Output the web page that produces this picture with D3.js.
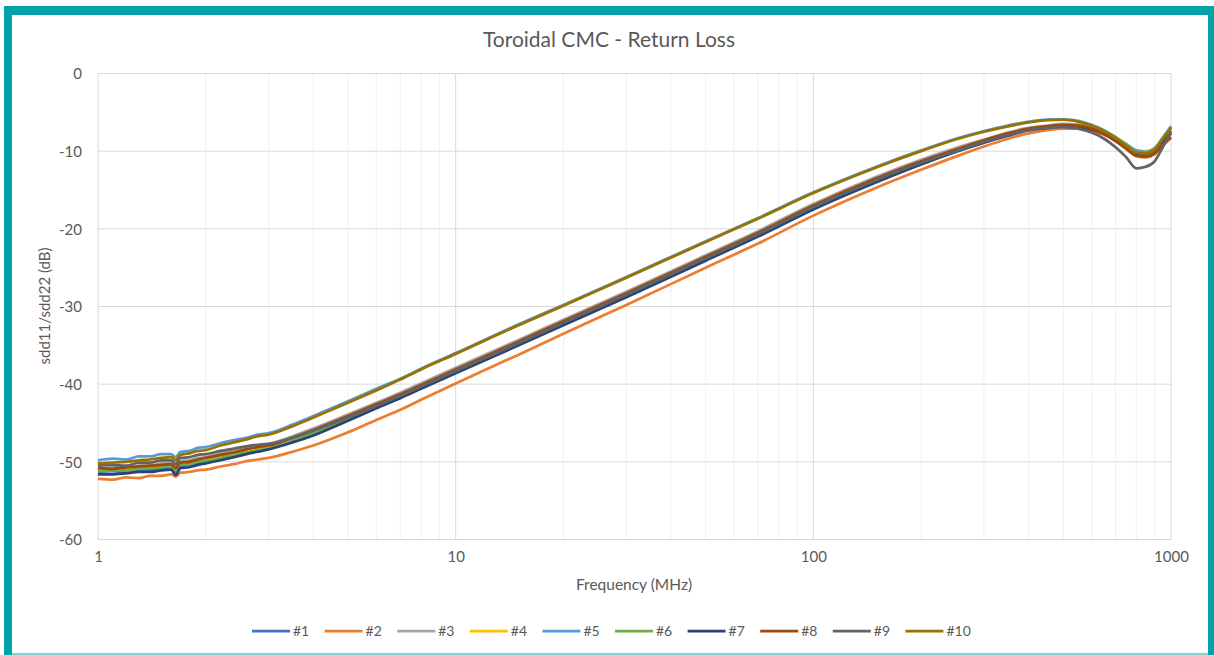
<html>
<head>
<meta charset="utf-8">
<style>
  body { margin: 0; background: #fff; }
  svg text { font-family: Lato, 'Open Sans', sans-serif; fill: #595959; }
</style>
</head>
<body>
<svg width="1214" height="655"></svg>
<script src="https://d3js.org/d3.v7.min.js"></script>
<script>
// frequency points (MHz)
const freqs = [1, 1.1, 1.2, 1.3, 1.4, 1.5, 1.6, 1.65, 1.7, 1.8, 1.9, 2, 2.2, 2.4, 2.6, 2.8, 3, 3.5, 4, 5,
  6, 7, 8, 10, 15, 20, 30, 50, 70, 100, 150, 200, 250, 300, 350, 400, 450, 500, 550, 600,
  650, 700, 750, 800, 850, 900, 950, 1000];

const s1 = [-51.3, -51.2, -51.3, -51.0, -51.0, -50.8, -50.7, -51.3, -50.5, -50.4, -50.1, -50.0, -49.5, -49.1, -48.7, -48.4, -48.2, -47.2, -46.2, -44.4,
  -42.9, -41.6, -40.4, -38.4, -34.8, -32.2, -28.6, -23.9, -20.8, -17.3, -13.8, -11.5, -9.9, -8.7, -7.8, -7.2, -6.9, -6.7, -6.8, -7.1,
  -7.7, -8.5, -9.4, -10.3, -10.4, -9.9, -8.4, -6.9];
const s2 = [-52.2, -52.3, -52.0, -52.1, -51.8, -51.8, -51.6, -51.9, -51.4, -51.3, -51.1, -51.0, -50.6, -50.3, -49.9, -49.7, -49.5, -48.7, -47.9, -46.2,
  -44.6, -43.3, -42.0, -39.9, -36.2, -33.5, -29.8, -25.0, -21.9, -18.3, -14.7, -12.4, -10.7, -9.4, -8.4, -7.7, -7.3, -7.1, -7.1, -7.4,
  -7.9, -8.7, -9.7, -10.6, -10.8, -10.4, -9.3, -8.3];
const s3 = [-50.9, -50.7, -50.8, -50.5, -50.5, -50.2, -50.2, -50.6, -49.9, -49.8, -49.5, -49.4, -48.9, -48.6, -48.2, -47.9, -47.7, -46.7, -45.7, -43.9,
  -42.4, -41.1, -39.9, -37.9, -34.3, -31.7, -28.1, -23.4, -20.3, -16.8, -13.3, -11.1, -9.6, -8.5, -7.6, -7.0, -6.7, -6.5, -6.6, -7.0,
  -7.6, -8.5, -9.5, -10.4, -10.5, -10.0, -8.7, -7.6];
const s4 = [-51.0, -51.0, -50.9, -50.7, -50.7, -50.5, -50.4, -50.9, -50.2, -50.1, -49.8, -49.7, -49.2, -48.9, -48.5, -48.2, -48.0, -47.0, -46.0, -44.2,
  -42.7, -41.4, -40.2, -38.2, -34.6, -32.0, -28.4, -23.7, -20.6, -17.1, -13.6, -11.4, -9.9, -8.7, -7.8, -7.2, -6.8, -6.6, -6.6, -6.9,
  -7.4, -8.2, -9.1, -9.9, -10.0, -9.6, -8.3, -7.1];
const s5 = [-49.8, -49.6, -49.7, -49.3, -49.3, -49.0, -49.0, -49.4, -48.7, -48.6, -48.2, -48.1, -47.6, -47.2, -46.9, -46.5, -46.3, -45.2, -44.1, -42.2,
  -40.6, -39.3, -38.0, -36.0, -32.3, -29.8, -26.2, -21.6, -18.6, -15.3, -12.0, -9.9, -8.4, -7.4, -6.7, -6.2, -5.95, -5.9, -6.1, -6.6,
  -7.3, -8.2, -9.1, -9.9, -10.1, -9.6, -8.2, -6.8];
const s6 = [-51.2, -51.1, -51.1, -50.9, -50.8, -50.7, -50.6, -51.1, -50.4, -50.3, -50.0, -49.9, -49.5, -49.2, -48.8, -48.5, -48.3, -47.3, -46.3, -44.5,
  -43.0, -41.7, -40.5, -38.5, -34.9, -32.3, -28.7, -24.0, -20.9, -17.4, -13.9, -11.6, -10.0, -8.8, -7.9, -7.2, -6.8, -6.6, -6.6, -6.9,
  -7.5, -8.3, -9.2, -10.1, -10.2, -9.7, -8.3, -7.0];
const s7 = [-51.6, -51.6, -51.5, -51.3, -51.3, -51.1, -51.0, -51.7, -50.8, -50.7, -50.4, -50.2, -49.8, -49.4, -49.0, -48.7, -48.4, -47.5, -46.6, -44.7,
  -43.1, -41.8, -40.6, -38.6, -35.0, -32.4, -28.8, -24.1, -21.0, -17.5, -14.0, -11.7, -10.1, -8.9, -8.0, -7.3, -7.0, -6.8, -6.9, -7.2,
  -7.8, -8.6, -9.6, -10.5, -10.6, -10.1, -8.8, -7.7];
const s8 = [-50.8, -50.9, -50.7, -50.6, -50.5, -50.4, -50.3, -50.8, -50.1, -50.0, -49.7, -49.5, -49.1, -48.8, -48.4, -48.1, -47.9, -46.9, -45.9, -44.1,
  -42.6, -41.3, -40.1, -38.1, -34.5, -31.9, -28.3, -23.6, -20.5, -17.0, -13.5, -11.3, -9.8, -8.6, -7.7, -7.1, -6.8, -6.6, -6.7, -7.1,
  -7.8, -8.7, -9.7, -10.6, -10.7, -10.3, -9.1, -8.2];
const s9 = [-50.5, -50.4, -50.5, -50.1, -50.1, -49.8, -49.8, -50.3, -49.5, -49.4, -49.1, -49.0, -48.6, -48.3, -48.0, -47.8, -47.7, -46.9, -46.0, -44.3,
  -42.8, -41.5, -40.3, -38.3, -34.7, -32.1, -28.5, -23.8, -20.7, -17.2, -13.7, -11.5, -10.0, -8.8, -7.9, -7.3, -7.0, -6.9, -7.1, -7.6,
  -8.4, -9.5, -10.8, -12.2, -12.0, -11.3, -9.4, -7.4];
const s10 = [-50.2, -50.1, -50.0, -49.8, -49.7, -49.5, -49.4, -49.8, -49.1, -48.9, -48.6, -48.5, -47.9, -47.5, -47.1, -46.7, -46.5, -45.4, -44.3, -42.4,
  -40.8, -39.4, -38.1, -36.1, -32.4, -29.9, -26.3, -21.7, -18.7, -15.4, -12.1, -10.0, -8.5, -7.5, -6.8, -6.3, -6.0, -5.95, -6.2, -6.7,
  -7.4, -8.3, -9.3, -10.2, -10.3, -9.8, -8.4, -7.0];

const names = ["#1", "#2", "#3", "#4", "#5", "#6", "#7", "#8", "#9", "#10"];
const colors = ["#4472C4", "#ED7D31", "#A5A5A5", "#FFC000", "#5B9BD5", "#70AD47", "#264478", "#9E480E", "#636363", "#997300"];
const yTicks = [0, -10, -20, -30, -40, -50, -60];
const xTicks = [1, 10, 100, 1000];

const seriesValues = [s1, s2, s3, s4, s5, s6, s7, s8, s9, s10];
let series = names.map((n, i) => ({
  name: n, color: colors[i],
  values: freqs.map((f, j) => ({ f: f, v: seriesValues[i][j] }))
}));

let svg = d3.select("svg");

// teal frame
svg.append("rect").attr("x", 4).attr("y", 6).attr("width", 1214).attr("height", 700).style("fill", "#03A1A8");
svg.append("rect").attr("x", 12).attr("y", 15).attr("width", 1196).attr("height", 638).style("fill", "#fff");
svg.append("line").attr("x1", 12).attr("x2", 1208).attr("y1", 654).attr("y2", 654)
  .style("stroke", "#86D3D6").style("stroke-width", 2);

let plotLeft = 98, plotRight = 1171, plotTop = 73.5, plotBottom = 539.5;

let x = d3.scaleLog().domain([1, 1000]).range([plotLeft, plotRight]);
let y = d3.scaleLinear().domain([-60, 0]).range([plotBottom, plotTop]);

// minor vertical gridlines
let minor = [];
[1, 10, 100].forEach(d => { for (let k = 2; k <= 9; k++) minor.push(d * k); });
svg.append("g").selectAll("line").data(minor).enter().append("line")
  .attr("x1", d => x(d)).attr("x2", d => x(d)).attr("y1", plotTop).attr("y2", plotBottom)
  .style("stroke", "#F0F0F0").style("stroke-width", 1);

// horizontal gridlines
svg.append("g").selectAll("line").data(yTicks).enter().append("line")
  .attr("x1", plotLeft).attr("x2", plotRight).attr("y1", d => y(d)).attr("y2", d => y(d))
  .style("stroke", "#D9D9D9").style("stroke-width", 1);

// major vertical gridlines
svg.append("g").selectAll("line").data(xTicks).enter().append("line")
  .attr("x1", d => x(d)).attr("x2", d => x(d)).attr("y1", plotTop).attr("y2", plotBottom)
  .style("stroke", "#D9D9D9").style("stroke-width", 1);

// axes labels
let yAxis = svg.append("g").attr("transform", "translate(" + (plotLeft - 16) + ",0)")
  .call(d3.axisLeft(y).tickValues(yTicks).tickSize(0).tickFormat(d => String(d)));
yAxis.select(".domain").remove();
yAxis.selectAll("text").style("font-size", "15px").attr("x", 0).attr("dy", "0.35em");

let xAxis = svg.append("g").attr("transform", "translate(0," + (plotBottom + 10) + ")")
  .call(d3.axisBottom(x).tickValues(xTicks).tickSize(0).tickFormat(d => String(d)));
xAxis.select(".domain").remove();
xAxis.selectAll("text").style("font-size", "15px").attr("y", 0).attr("dy", "0.8em");

// lines
let line = d3.line().x(d => x(d.f)).y(d => y(d.v)).curve(d3.curveMonotoneX);
svg.append("g").selectAll("path").data(series).enter().append("path")
  .attr("d", d => line(d.values))
  .style("fill", "none")
  .style("stroke", d => d.color)
  .style("stroke-width", 2.75)
  .style("stroke-linejoin", "round");

// titles
svg.append("text").attr("x", 609).attr("y", 47).attr("text-anchor", "middle")
  .style("font-size", "21px").text("Toroidal CMC - Return Loss");
svg.append("text").attr("x", 634).attr("y", 590).attr("text-anchor", "middle")
  .style("font-size", "15.5px").text("Frequency (MHz)");
svg.append("text").attr("transform", "translate(50,306) rotate(-90)").attr("text-anchor", "middle")
  .style("font-size", "15px").text("sdd11/sdd22 (dB)");

// legend
let legend = svg.append("g").selectAll("g").data(series).enter().append("g")
  .attr("transform", (d, i) => "translate(" + (252 + i * 72.6) + ",631)");
legend.append("line").attr("x1", 0).attr("x2", 38).attr("y1", 0).attr("y2", 0)
  .style("stroke", d => d.color).style("stroke-width", 2.75);
legend.append("text").attr("x", 41).attr("y", 5).style("font-size", "14px").text(d => d.name);
</script>
</body>
</html>
